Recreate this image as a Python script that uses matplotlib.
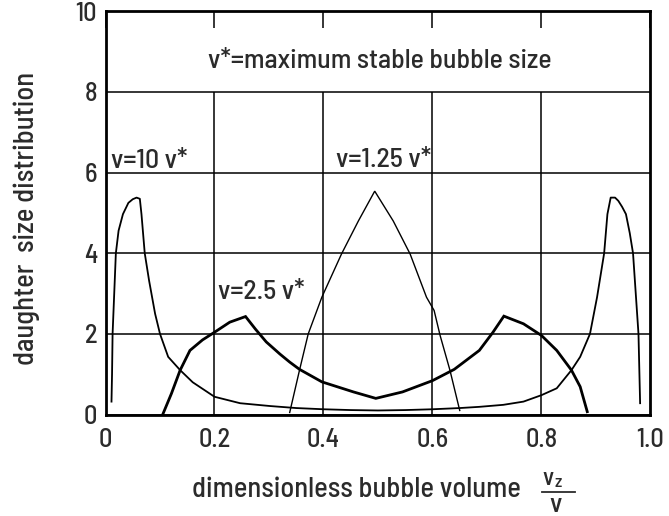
import matplotlib
matplotlib.use("Agg")
import matplotlib.pyplot as plt

FONT = ["Barlow Semi Condensed", "DejaVu Sans"]
plt.rcParams["font.family"] = FONT
plt.rcParams["font.stretch"] = "condensed"
plt.rcParams["font.weight"] = "medium"

# daughter size distribution for v = 10 v*
x_v10 = [0.011, 0.012, 0.013, 0.016, 0.019, 0.024, 0.032, 0.042, 0.050, 0.057,
         0.063, 0.066, 0.072, 0.080, 0.091, 0.100, 0.115, 0.137, 0.160, 0.200,
         0.247, 0.302, 0.350, 0.400, 0.450, 0.500, 0.550, 0.600, 0.650, 0.686,
         0.730, 0.767, 0.800, 0.828, 0.855, 0.871, 0.889, 0.902, 0.915, 0.921,
         0.927, 0.935, 0.941, 0.948, 0.955, 0.962, 0.968, 0.973, 0.978, 0.981]
y_v10 = [0.32, 1.00, 2.00, 3.00, 4.00, 4.56, 4.97, 5.25, 5.34, 5.38,
         5.35, 4.97, 4.00, 3.32, 2.50, 2.00, 1.43, 1.10, 0.80, 0.44,
         0.28, 0.21, 0.16, 0.13, 0.11, 0.10, 0.11, 0.13, 0.16, 0.19,
         0.24, 0.32, 0.48, 0.65, 1.10, 1.43, 2.00, 2.91, 4.00, 4.97,
         5.38, 5.38, 5.30, 5.15, 4.97, 4.50, 4.00, 3.00, 2.00, 0.28]

# v = 2.5 v*
x_v25 = [0.105, 0.121, 0.137, 0.155, 0.178, 0.200, 0.228, 0.257, 0.275, 0.295,
         0.320, 0.338, 0.356, 0.397, 0.455, 0.496, 0.545, 0.600, 0.640, 0.686,
         0.711, 0.731, 0.767, 0.800, 0.828, 0.855, 0.871, 0.884]
y_v25 = [0.00, 0.52, 1.10, 1.59, 1.85, 2.04, 2.29, 2.43, 2.12, 1.80,
         1.50, 1.30, 1.12, 0.81, 0.56, 0.40, 0.56, 0.84, 1.12, 1.59,
         2.04, 2.44, 2.25, 1.96, 1.59, 1.10, 0.69, 0.07]

# v = 1.25 v*
x_v125 = [0.338, 0.356, 0.372, 0.397, 0.433, 0.464, 0.494, 0.528, 0.559, 0.589,
          0.603, 0.614, 0.632, 0.650]
y_v125 = [0.05, 1.10, 2.00, 2.91, 3.98, 4.80, 5.54, 4.80, 3.98, 2.91,
          2.58, 1.96, 1.10, 0.10]

x_ticks = [0, 0.2, 0.4, 0.6, 0.8, 1.0]
x_tick_labels = ["0", "0.2", "0.4", "0.6", "0.8", "1.0"]
y_ticks = [0, 2, 4, 6, 8, 10]
y_tick_labels = ["0", "2", "4", "6", "8", "10"]

TXT = "#2b2b2b"
GRID_LW = 1.1

fig = plt.figure(figsize=(6.69, 5.16), dpi=100)
ax = fig.add_axes([0.1577, 0.1967, 0.8146, 0.7813])

ax.plot(x_v10, y_v10, color="black", lw=1.3, solid_joinstyle="round", zorder=3)
ax.plot(x_v25, y_v25, color="black", lw=2.0, solid_joinstyle="miter", zorder=3)
ax.plot(x_v125, y_v125, color="black", lw=1.0, solid_joinstyle="miter", zorder=3)

ax.set_xlim(0, 1.0)
ax.set_ylim(0, 10)
ax.set_xticks(x_ticks)
ax.set_xticklabels(x_tick_labels)
ax.set_yticks(y_ticks)
ax.set_yticklabels(y_tick_labels)
ax.tick_params(axis="y", length=0, labelsize=19, colors=TXT, pad=6)
# vertical grid stops below the caption band; short inward ticks remain at the top
ax.tick_params(axis="x", labelsize=19, labelcolor=TXT, pad=10, bottom=False,
               top=True, direction="in", length=12, width=GRID_LW, color="black")
ax.grid(True, axis="y", color="black", lw=GRID_LW)
ax.vlines(x_ticks[1:-1], 0, 8, color="black", lw=GRID_LW, zorder=1)
for s in ax.spines.values():
    s.set_linewidth(2.0)
    s.set_color("black")

ax.text(0.504, 8.59, "v*=maximum stable bubble size", ha="center", va="baseline",
        fontsize=20, color=TXT)
ax.text(0.011, 6.12, "v=10 v*", ha="left", va="baseline", fontsize=20, color=TXT)
ax.text(0.423, 6.15, "v=1.25 v*", ha="left", va="baseline", fontsize=20, color=TXT)
ax.text(0.206, 2.87, "v=2.5 v*", ha="left", va="baseline", fontsize=20, color=TXT)

fig.text(0.040, 0.576, "daughter  size distribution", rotation=90, ha="center",
         va="center", fontsize=20.5, color=TXT)

fig.text(0.2866, 0.0374, "dimensionless bubble volume", ha="left", va="baseline",
         fontsize=20.5, color=TXT)
# fraction v_z / v
fig.text(0.8115, 0.060, "v", ha="left", va="baseline", fontsize=18, color=TXT)
fig.text(0.8295, 0.056, "z", ha="left", va="baseline", fontsize=13, color=TXT)
fig.add_artist(plt.Line2D([0.810, 0.860], [0.047, 0.047], color=TXT, lw=1.3,
                          transform=fig.transFigure))
fig.text(0.8305, 0.008, "v", ha="center", va="baseline", fontsize=20, color=TXT)

fig.savefig("out.png", dpi=100)
